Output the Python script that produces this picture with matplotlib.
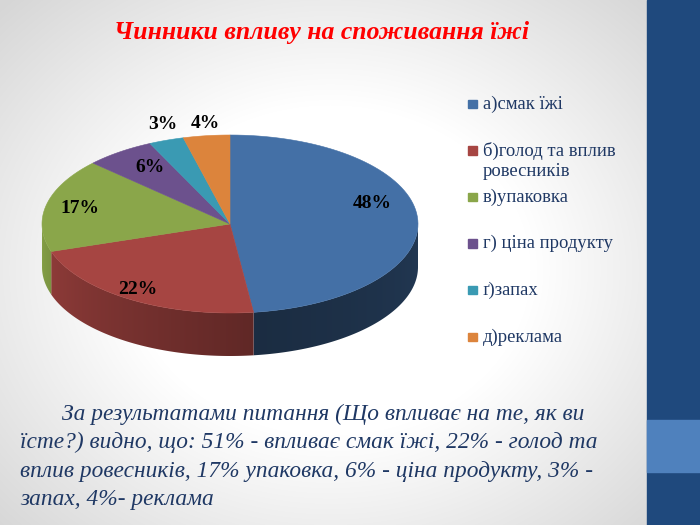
import numpy as np
import matplotlib
matplotlib.use("Agg")
import matplotlib.pyplot as plt
from matplotlib.patches import Polygon, Rectangle
from matplotlib import font_manager as fm

# --- Data ---
categories = ["а)смак їжі", "б)голод та вплив\nровесників", "в)упаковка",
              "г) ціна продукту", "ґ)запах", "д)реклама"]
values = [48, 22, 17, 6, 3, 4]
pct_labels = ["48%", "22%", "17%", "6%", "3%", "4%"]
title = "Чинники впливу на споживання їжі"
body_lines = [
    "За результатами питання (Що впливає на те, як ви",
    "їсте?) видно, що: 51% - впливає смак їжі, 22% - голод та",
    "вплив ровесників, 17% упаковка, 6% - ціна продукту, 3% -",
    "запах, 4%- реклама",
]

# --- Styles ---
colors = ["#4470A6", "#A64542", "#8AA64A", "#6C518D", "#3A9AB3", "#DC843C"]
side_k = [0.40, 0.57, 0.60, 0.55, 0.55, 0.55]
label_r = [0.76, 0.92, 0.82, 0.72, 1.05, 1.05]
label_dy = [-16, -4, 0, -5, -12, -8]
navy = "#1F3864"

cx, cy, rx, ry, depth = 230, 224, 188, 89, 43


def serif_font(size, style="normal", bold=False):
    return fm.FontProperties(family="Liberation Serif", style=style,
                             weight="bold" if bold else "normal", size=size)


def pt(theta_deg, r=1.0):
    t = np.radians(theta_deg)
    return cx + rx * r * np.sin(t), cy - ry * r * np.cos(t)


fig = plt.figure(figsize=(7, 5.25), dpi=100)
ax = fig.add_axes([0, 0, 1, 1])

# slide background (soft radial gradient)
yy, xx = np.mgrid[0:525, 0:648]
d = np.sqrt(((xx - 330) / 400.0) ** 2 + ((yy - 270) / 330.0) ** 2)
g = 1 - 0.16 * np.clip((d - 0.5) / 0.65, 0, 1)
ax.imshow(np.dstack([g, g, g]), extent=(0, 648, 525, 0), zorder=0, aspect="auto")
ax.add_patch(Rectangle((647, 0), 53, 525, color="#1F497D", zorder=1))
ax.add_patch(Rectangle((647, 420), 53, 52, color="#4F81BD", zorder=2))

# --- 3D pie ---
total = sum(values)
bounds = np.concatenate([[0], np.cumsum(values)]) / total * 360.0

# side walls (visible front half, 90..270 degrees), shaded by angle
cols = np.linspace(cx - rx, cx + rx, 400)
theta_cols = 180 - np.degrees(np.arcsin(np.clip((cols - cx) / rx, -1, 1)))
shade = np.where(theta_cols > 170, 1 + 0.48 * (theta_cols - 170) / 80,
                 1 + 0.25 * (170 - theta_cols) / 80)
for i in range(len(values)):
    a0, a1 = max(bounds[i], 90), min(bounds[i + 1], 270)
    if a1 <= a0:
        continue
    th = np.linspace(a0, a1, 100)
    xs, ys = pt(th)
    poly_pts = list(zip(xs, ys)) + list(zip(xs[::-1], ys[::-1] + depth))
    poly = Polygon(poly_pts, closed=True, facecolor="none", edgecolor="none")
    ax.add_patch(poly)
    base = np.array(matplotlib.colors.to_rgb(colors[i]))
    row = np.clip(base[None, :] * side_k[i] * shade[:, None], 0, 1)
    img = np.repeat(row[None, :, :], 2, axis=0)
    im = ax.imshow(img, extent=(cx - rx, cx + rx, cy + ry + depth + 2, cy - 2),
                   aspect="auto", zorder=3, interpolation="bilinear")
    im.set_clip_path(poly)

# top face
for i in range(len(values)):
    th = np.linspace(bounds[i], bounds[i + 1], 80)
    xs, ys = pt(th)
    poly = [(cx, cy)] + list(zip(xs, ys))
    ax.add_patch(Polygon(poly, closed=True, facecolor=colors[i],
                         edgecolor=colors[i], lw=0.4, zorder=4))

for i, lab in enumerate(pct_labels):
    mid = 0.5 * (bounds[i] + bounds[i + 1])
    lx, ly = pt(mid, label_r[i])
    ax.text(lx, ly + label_dy[i], lab, fontproperties=serif_font(14, bold=True),
            ha="center", va="center", color="black", zorder=6)

# --- legend ---
leg_y0, leg_step = 104, 46.6
for i, cat in enumerate(categories):
    y = leg_y0 + i * leg_step
    ax.add_patch(Rectangle((468, y - 4.5), 8.5, 8.5, color=colors[i], zorder=5))
    for j, line in enumerate(cat.split("\n")):
        ax.text(483, y + j * 21, line, fontproperties=serif_font(13.4),
                color=navy, ha="left", va="center", zorder=5)

# --- title and text ---
ax.text(322, 32, title, fontproperties=serif_font(18.5, "italic", True),
        color="#FF0000", ha="center", va="center", zorder=5)

line_x = [62, 20, 20, 20]
for k, line in enumerate(body_lines):
    ax.text(line_x[k], 414 + k * 28.5, line, fontproperties=serif_font(16.8, "italic"),
            color=navy, ha="left", va="center", zorder=5)

ax.set_xlim(0, 700)
ax.set_ylim(525, 0)
ax.axis("off")
fig.savefig("out.png", dpi=100)
